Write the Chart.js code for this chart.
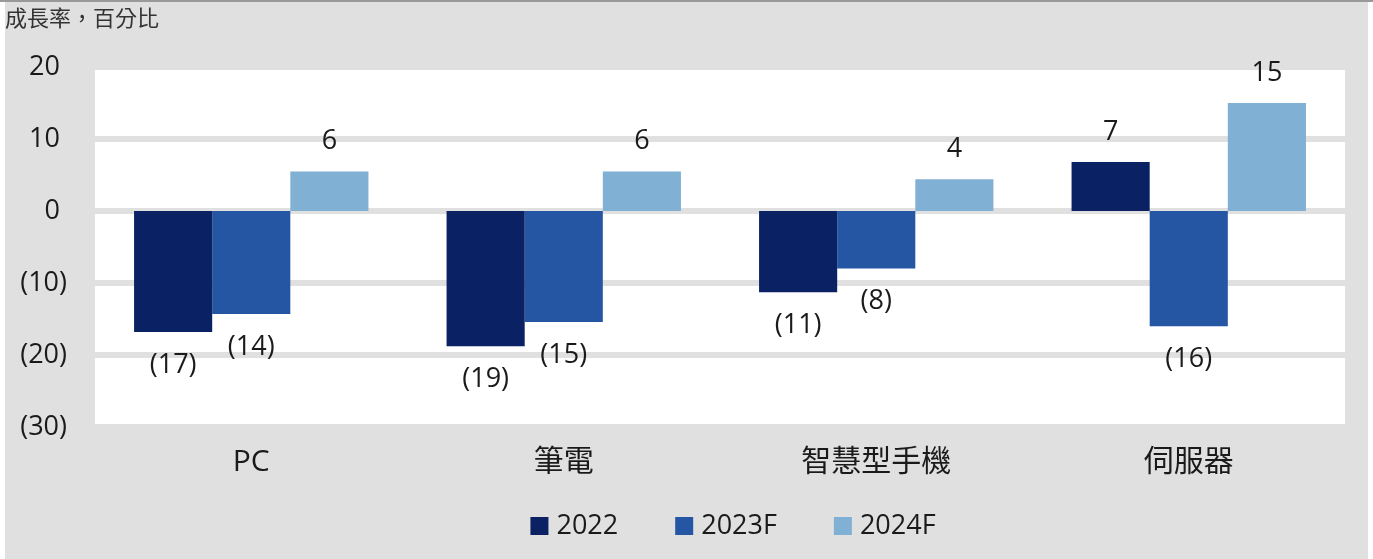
<!DOCTYPE html>
<html>
<head>
<meta charset="utf-8">
<script src="https://cdn.jsdelivr.net/npm/chart.js@4.4.1/dist/chart.umd.min.js"></script>
<style>
  html, body { margin: 0; padding: 0; background: #fff; }
  canvas { display: block; }
</style>
</head>
<body>
<canvas id="growthChart" width="1373" height="559"></canvas>
<script>
// categories and series (growth rate, %)
const categories = ['PC', '筆電', '智慧型手機', '伺服器'];
const seriesNames = ['2022', '2023F', '2024F'];
const values2022 = [-16.8, -18.8, -11.3, 6.8];
const values2023F = [-14.3, -15.4, -8.0, -16.0];
const values2024F = [5.5, 5.5, 4.4, 15.0];
const seriesColors = ['#0a2164', '#2456a4', '#80b0d3'];
const yTicks = [20, 10, 0, -10, -20, -30];
const unitTitle = '成長率，百分比';

const BG = '#e0e0e0';
const TEXT = '#1a1a1a';
const GRID_W = 6;
const LATIN = '"Open Sans", "Noto Sans CJK TC", sans-serif';

const fmt = v => v < 0 ? `(${Math.round(-v)})` : `${Math.round(v)}`;

// Gray panel, white plot area, unit title and top rule
const backdrop = {
    id: 'backdrop',
    beforeDraw(chart) {
        const { ctx, chartArea: a } = chart;
        ctx.save();
        ctx.fillStyle = BG;
        ctx.fillRect(5, 2, 1363, 557);
        ctx.fillStyle = '#999';
        ctx.fillRect(0, 0, 1373, 2);
        ctx.fillStyle = '#fff';
        ctx.fillRect(a.left, a.top, a.right - a.left, a.bottom - a.top);
        ctx.fillStyle = '#333';
        ctx.font = '22px "Noto Sans CJK TC", sans-serif';
        ctx.textBaseline = 'middle';
        ctx.fillText(unitTitle, 5, 18);
        ctx.restore();
    },
    // zero line goes under the bars (Chart.js would otherwise shorten bars by half its width)
    beforeDatasetsDraw(chart) {
        const { ctx, chartArea: a, scales: { y } } = chart;
        const y0 = y.getPixelForValue(0);
        ctx.save();
        ctx.fillStyle = BG;
        ctx.fillRect(a.left, y0 - GRID_W / 2, a.right - a.left, GRID_W);
        ctx.restore();
    }
};

// Value labels above/below bars
const valueLabels = {
    id: 'valueLabels',
    afterDatasetsDraw(chart) {
        const { ctx } = chart;
        ctx.save();
        ctx.font = `27px ${LATIN}`;
        ctx.fillStyle = TEXT;
        ctx.textAlign = 'center';
        ctx.textBaseline = 'middle';
        chart.data.datasets.forEach((ds, i) => {
            chart.getDatasetMeta(i).data.forEach((bar, j) => {
                const v = ds.data[j];
                const y = v >= 0 ? bar.y - 30 : bar.y + 33;
                ctx.fillText(fmt(v), bar.x, y);
            });
        });
        ctx.restore();
    }
};

// Legend drawn under the axis from the dataset list
const bottomLegend = {
    id: 'bottomLegend',
    afterDraw(chart) {
        const { ctx } = chart;
        ctx.save();
        ctx.font = `27px ${LATIN}`;
        ctx.textBaseline = 'middle';
        const box = 18, gapText = 8, gapItem = 57, y = 526;
        const items = chart.data.datasets.map(ds => ({
            text: ds.label, color: ds.backgroundColor, w: ctx.measureText(ds.label).width
        }));
        const total = items.reduce((s, it) => s + box + gapText + it.w, 0) + gapItem * (items.length - 1);
        let x = 733 - total / 2;
        items.forEach(it => {
            ctx.fillStyle = it.color;
            ctx.fillRect(x, y - box / 2, box, box);
            x += box + gapText;
            ctx.fillStyle = TEXT;
            ctx.fillText(it.text, x, y);
            x += it.w + gapItem;
        });
        ctx.restore();
    }
};

const seriesValues = [values2022, values2023F, values2024F];

new Chart(document.getElementById('growthChart'), {
    type: 'bar',
    data: {
        labels: categories,
        datasets: seriesNames.map((name, i) => ({
            label: name,
            data: seriesValues[i],
            backgroundColor: seriesColors[i],
            borderWidth: 0,
            categoryPercentage: 0.75,
            barPercentage: 1
        }))
    },
    options: {
        responsive: false,
        animation: false,
        layout: { padding: { left: 5, right: 28, top: 67, bottom: 83 } },
        plugins: {
            legend: { display: false },
            title: { display: false },
            tooltip: { enabled: false }
        },
        scales: {
            x: {
                grid: { display: false },
                border: { display: false },
                ticks: {
                    color: TEXT,
                    padding: 9,
                    font: { family: '"Open Sans", "Noto Sans CJK TC", sans-serif', size: 30 }
                },
                afterFit: s => { s.height = 49; }
            },
            y: {
                min: Math.min(...yTicks),
                max: Math.max(...yTicks),
                border: { display: false },
                grid: {
                    color: BG,
                    lineWidth: c => (c.tick && c.tick.value === 0 ? 0 : GRID_W),
                    drawTicks: false
                },
                ticks: {
                    stepSize: 10,
                    color: TEXT,
                    padding: 28,
                    font: { family: LATIN, size: 27 },
                    callback: v => v < 0 ? `(${-v})` : `${v} `
                },
                afterFit: s => { s.width = 90; }
            }
        }
    },
    plugins: [backdrop, valueLabels, bottomLegend]
});
</script>
</body>
</html>
